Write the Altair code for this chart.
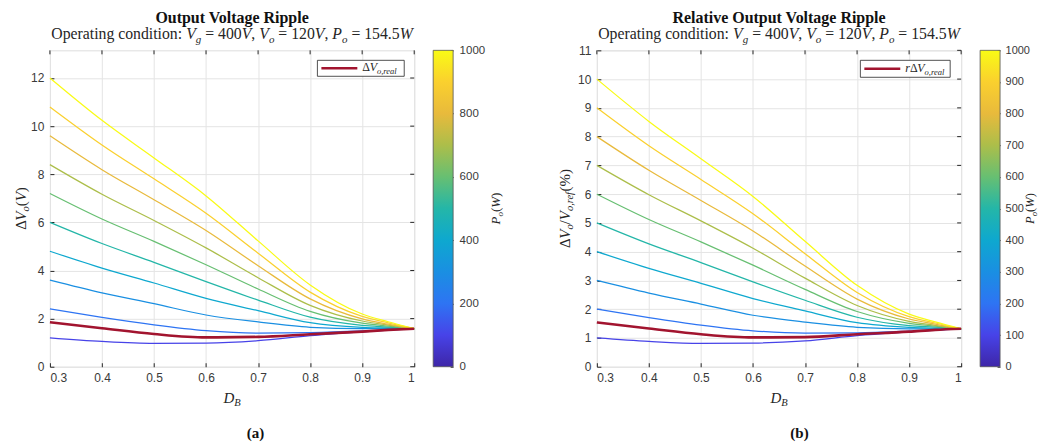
import altair as alt
import pandas as pd

# ---------------- data ----------------
D = [0.3, 0.4, 0.5, 0.6, 0.7, 0.8, 0.9, 0.95, 1.0]
P_LEVELS = [100, 200, 300, 400, 500, 600, 700, 800, 900, 1000]

# (a) output voltage ripple dVo (V)
dv_100 = [1.20, 1.05, 0.97, 0.98, 1.08, 1.29, 1.45, 1.52, 1.58]
dv_200 = [2.40, 2.05, 1.74, 1.50, 1.40, 1.42, 1.49, 1.54, 1.58]
dv_300 = [3.60, 3.07, 2.62, 2.15, 1.86, 1.64, 1.58, 1.58, 1.58]
dv_400 = [4.80, 4.10, 3.48, 2.84, 2.33, 1.83, 1.64, 1.61, 1.58]
dv_500 = [6.00, 5.12, 4.34, 3.54, 2.77, 2.06, 1.72, 1.65, 1.58]
dv_600 = [7.20, 6.14, 5.21, 4.24, 3.23, 2.30, 1.81, 1.69, 1.58]
dv_700 = [8.40, 7.17, 6.08, 4.94, 3.70, 2.55, 1.90, 1.73, 1.58]
dv_800 = [9.60, 8.19, 6.94, 5.66, 4.20, 2.82, 1.99, 1.77, 1.58]
dv_900 = [10.80, 9.22, 7.81, 6.38, 4.72, 3.10, 2.09, 1.82, 1.58]
dv_1000 = [12.00, 10.24, 8.68, 7.10, 5.23, 3.40, 2.19, 1.87, 1.58]
dv_real = [1.85, 1.60, 1.36, 1.22, 1.24, 1.35, 1.46, 1.53, 1.58]

# (b) relative output voltage ripple (%)
rv_100 = [1.00, 0.88, 0.81, 0.82, 0.90, 1.08, 1.21, 1.27, 1.32]
rv_200 = [2.00, 1.71, 1.45, 1.25, 1.17, 1.18, 1.24, 1.28, 1.32]
rv_300 = [3.00, 2.56, 2.18, 1.79, 1.55, 1.37, 1.32, 1.32, 1.32]
rv_400 = [4.00, 3.42, 2.90, 2.37, 1.94, 1.53, 1.37, 1.34, 1.32]
rv_500 = [5.00, 4.27, 3.62, 2.95, 2.31, 1.72, 1.43, 1.38, 1.32]
rv_600 = [6.00, 5.12, 4.34, 3.53, 2.69, 1.92, 1.51, 1.41, 1.32]
rv_700 = [7.00, 5.98, 5.07, 4.12, 3.08, 2.13, 1.58, 1.44, 1.32]
rv_800 = [8.00, 6.83, 5.78, 4.72, 3.50, 2.35, 1.66, 1.48, 1.32]
rv_900 = [9.00, 7.68, 6.51, 5.32, 3.93, 2.58, 1.74, 1.52, 1.32]
rv_1000 = [10.00, 8.53, 7.23, 5.92, 4.36, 2.83, 1.83, 1.56, 1.32]
rv_real = [1.54, 1.33, 1.13, 1.02, 1.03, 1.13, 1.22, 1.28, 1.32]

X_TICKS = [0.3, 0.4, 0.5, 0.6, 0.7, 0.8, 0.9, 1.0]
Y_TICKS_A = [0, 2, 4, 6, 8, 10, 12]
Y_TICKS_B = [0, 1, 2, 3, 4, 5, 6, 7, 8, 9, 10, 11]
CB_TICKS_A = [0, 200, 400, 600, 800, 1000]
CB_TICKS_B = [0, 100, 200, 300, 400, 500, 600, 700, 800, 900, 1000]

# parula-like colour map
PARULA = ["#3E26A8", "#4743E8", "#2E74F3", "#1A8FE2", "#0EA8CF", "#24B6A8",
          "#67BF72", "#ACBE4A", "#E8BA3C", "#FAD02E", "#F9FB15"]
PARULA_DOMAIN = [0, 100, 200, 300, 400, 500, 600, 700, 800, 900, 1000]
RED = "#A2142F"

SERIF = "Liberation Serif"
SANS = "Liberation Sans"
INK = "#262626"
LBL = "#3a3a3a"

W, H = 365, 317
CB_GAP, CBW = 19, 20


def table(series, name):
    rows = []
    for p, vals in zip(P_LEVELS, series):
        for d, v in zip(D, vals):
            rows.append({"D": d, name: v, "P": p})
    return pd.DataFrame(rows)


# ---------------- rich text helper (sub-scripts) ----------------
_UR = dict(zip("ABCDEFGHIJKLMNOPQRSTUVWXYZ",
               [722, 667, 667, 722, 611, 556, 722, 722, 333, 389, 722, 611, 889,
                722, 722, 556, 722, 667, 556, 611, 722, 722, 944, 722, 722, 611]))
_LR = dict(zip("abcdefghijklmnopqrstuvwxyz",
               [444, 500, 444, 500, 444, 333, 500, 500, 278, 278, 500, 278, 778,
                500, 500, 500, 500, 333, 389, 278, 500, 500, 722, 500, 500, 444]))
_UI = dict(zip("ABCDEFGHIJKLMNOPQRSTUVWXYZ",
               [611, 611, 667, 722, 611, 611, 722, 722, 333, 444, 667, 556, 833,
                667, 722, 611, 722, 611, 500, 556, 722, 611, 833, 611, 556, 556]))
_LI = dict(zip("abcdefghijklmnopqrstuvwxyz",
               [500, 500, 444, 500, 444, 278, 500, 500, 278, 278, 444, 278, 722,
                500, 500, 500, 500, 389, 389, 278, 500, 444, 667, 444, 444, 389]))
_PUN = {" ": 250, "(": 333, ")": 333, ":": 278, ",": 250, ".": 250, "/": 278,
        "=": 564, "%": 833, "\u0394": 612}
for _c in "0123456789":
    _PUN[_c] = 500
TR = {**_UR, **_LR, **_PUN}
TI = {**_UI, **_LI, **_PUN}

ONE = pd.DataFrame({"k": [1]})


def text_w(s, size, italic):
    tbl = TI if italic else TR
    return sum(tbl.get(ch, 500) for ch in s) * size / 1000.0


def rich(pieces, x0, y0, angle=0, anchor="center", color=INK):
    """pieces: (text, size, italic, shift) laid out one after another."""
    widths = [text_w(p[0], p[1], p[2]) for p in pieces]
    off = -sum(widths) / 2 if anchor == "center" else 0.0
    out = []
    for (t, size, it, shift), w in zip(pieces, widths):
        lead = (len(t) - len(t.lstrip(" "))) * 250 * size / 1000.0
        pos = off + lead
        if angle == 0:
            px, py = x0 + pos, y0 + shift
        else:
            px, py = x0 + shift, y0 - pos
        out.append(
            alt.Chart(ONE).mark_text(
                text=t.strip(" "), align="left", baseline="alphabetic", font=SERIF,
                fontSize=size, fontStyle="italic" if it else "normal",
                angle=angle, color=color,
            ).encode(x=alt.value(px), y=alt.value(py))
        )
        off += w
    return out


def plain(t, x, y, size, bold=False):
    return alt.Chart(ONE).mark_text(
        text=t, align="center", baseline="middle", font=SERIF, fontSize=size,
        fontWeight="bold" if bold else "normal", color="#111111",
    ).encode(x=alt.value(x), y=alt.value(y))


S, s = 15, 10.5  # axis-title / subscript font sizes
ST, st = 15.8, 11  # subtitle sizes


def subtitle(x0, y0):
    return rich([
        ("Operating condition: ", ST, False, 0),
        ("V", ST, True, 0), ("g", st, True, 3.5), (" = 400", ST, False, 0), ("V", ST, True, 0),
        (", ", ST, False, 0),
        ("V", ST, True, 0), ("o", st, True, 3.5), (" = 120", ST, False, 0), ("V", ST, True, 0),
        (", ", ST, False, 0),
        ("P", ST, True, 0), ("o", st, True, 3.5), (" = 154.5", ST, False, 0), ("W", ST, True, 0),
    ], x0, y0)


color_scale = alt.Scale(domain=PARULA_DOMAIN, range=PARULA)
GRAD = alt.LinearGradient(
    gradient="linear", x1=0, x2=0, y1=1, y2=0,
    stops=[alt.GradientStop(color=c, offset=o / 1000) for c, o in zip(PARULA, PARULA_DOMAIN)],
)


def panel(df, real_df, field, ydom, yticks, cbticks, title, ytitle, ytitle_x,
          letter, letter_x, legend_pieces, box, cbtitle_x, cb_lbl_size, cb_lbl_pad,
          cbt_size):
    xenc = alt.X("D:Q", scale=alt.Scale(domain=[0.3, 1.0], nice=False, zero=False),
                 axis=alt.Axis(values=X_TICKS, format=".1~f", title=None,
                               domain=False, offset=-4, tickSize=4, tickColor=INK,
                               labelPadding=6, labelFont=SANS, labelFontSize=12,
                               labelColor=LBL, gridColor="#e4e4e4"))
    yenc = alt.Y(f"{field}:Q", scale=alt.Scale(domain=ydom, nice=False, zero=False),
                 axis=alt.Axis(values=yticks, title=None, domain=False, offset=-4,
                               tickSize=4, tickColor=INK, labelPadding=6,
                               labelFont=SANS, labelFontSize=12, labelColor=LBL,
                               gridColor="#e4e4e4"))
    lines = alt.Chart(df).mark_line(strokeWidth=1.25, interpolate="monotone").encode(
        x=xenc, y=yenc,
        color=alt.Color("P:Q", scale=color_scale, legend=None),
        detail="P:N",
    )
    real = alt.Chart(real_df).mark_line(strokeWidth=2.6, interpolate="monotone",
                                        color=RED).encode(x=xenc, y=yenc)
    # mirrored inward ticks on the top and right edges of the box
    top_ticks = alt.Chart(pd.DataFrame({"D": X_TICKS})).mark_rule(
        color=INK, strokeWidth=1).encode(x=xenc, y=alt.value(0), y2=alt.value(4))
    right_ticks = alt.Chart(pd.DataFrame({field: yticks})).mark_rule(
        color=INK, strokeWidth=1).encode(y=yenc, x=alt.value(W - 4), x2=alt.value(W))
    curves = alt.layer(lines, real, top_ticks, right_ticks)

    cb = alt.Chart(pd.DataFrame({"lo": [0], "hi": [1000]})).mark_rect(
        fill=GRAD, stroke="#555555", strokeWidth=0.8).encode(
        y=alt.Y("lo:Q", scale=alt.Scale(domain=[0, 1000], nice=False),
                axis=alt.Axis(orient="right", values=cbticks, format="d", title=None,
                              domain=False, grid=False,
                              offset=CB_GAP + CBW - 3, tickSize=3, tickColor=INK,
                              labelPadding=cb_lbl_pad, labelFont=SANS,
                              labelFontSize=cb_lbl_size, labelColor=LBL)),
        y2="hi:Q",
        x=alt.value(W + CB_GAP), x2=alt.value(W + CB_GAP + CBW),
    )
    main = alt.layer(curves, cb).resolve_scale(y="independent")

    bx0, bx1, by0, by1 = box
    leg_box = alt.Chart(ONE).mark_rect(fill="white", stroke=INK, strokeWidth=0.8).encode(
        x=alt.value(bx0), x2=alt.value(bx1), y=alt.value(by0), y2=alt.value(by1))
    leg_line = alt.Chart(ONE).mark_rule(color=RED, strokeWidth=2.6).encode(
        x=alt.value(bx0 + 4), x2=alt.value(bx0 + 40), y=alt.value((by0 + by1) / 2))

    texts = [leg_box, leg_line]
    texts += rich(legend_pieces, bx0 + 45, by1 - 5, anchor="left")
    texts.append(plain(title, W / 2, -32, 16, bold=True))
    texts += subtitle(W / 2, -11)
    texts += rich([("D", S, True, 0), ("B", s, True, 3.5)], W / 2, 353)
    texts += rich(ytitle, ytitle_x, H / 2, angle=270)
    texts.append(plain(letter, letter_x, 383, 15, bold=True))
    sub = cbt_size * 0.7
    texts += rich([("P", cbt_size, True, 0), ("o", sub, True, 3),
                   ("(", cbt_size, False, 0), ("W", cbt_size, True, 0),
                   (")", cbt_size, False, 0)],
                  cbtitle_x, H / 2, angle=270)

    return alt.layer(main, *texts).properties(width=W, height=H)


left = panel(
    table([dv_100, dv_200, dv_300, dv_400, dv_500, dv_600, dv_700, dv_800, dv_900, dv_1000], "V"),
    pd.DataFrame({"D": D, "V": dv_real}), "V", [0, 13.15], Y_TICKS_A, CB_TICKS_A,
    "Output Voltage Ripple",
    [("\u0394", S, False, 0), ("V", S, True, 0), ("o", s, True, 3.5),
     ("(", S, False, 0), ("V", S, True, 0), (")", S, False, 0)], -24,
    "(a)", 206,
    [("\u0394", 12, False, 0), ("V", 12, True, 0), ("o,real", 8.5, True, 3)],
    (268, 355, 10, 26), 451, 11.5, 6, 13,
)
right = panel(
    table([rv_100, rv_200, rv_300, rv_400, rv_500, rv_600, rv_700, rv_800, rv_900, rv_1000], "R"),
    pd.DataFrame({"D": D, "R": rv_real}), "R", [0, 11], Y_TICKS_B, CB_TICKS_B,
    "Relative Output Voltage Ripple",
    [("\u0394", S, False, 0), ("V", S, True, 0), ("o", s, True, 3.5), ("/", S, False, 0),
     ("V", S, True, 0), ("o,ref", s, True, 3.5),
     ("(", S, False, 0), ("%", S, False, 0), (")", S, False, 0)], -27,
    "(b)", 203,
    [("r", 12, True, 0), ("\u0394", 12, False, 0), ("V", 12, True, 0), ("o,real", 8.5, True, 3)],
    (264, 354, 10, 27), 438, 11, 5, 12.5,
)

chart = alt.hconcat(left, right, spacing=183, bounds="flush").resolve_scale(
    x="independent", y="independent", color="independent"
).properties(
    padding={"left": 5, "top": 1, "right": 0, "bottom": 0}
).configure_view(stroke="#555555", strokeWidth=1).configure(background="white")

chart.save("out.html", embed_options={"renderer": "svg", "actions": False})
